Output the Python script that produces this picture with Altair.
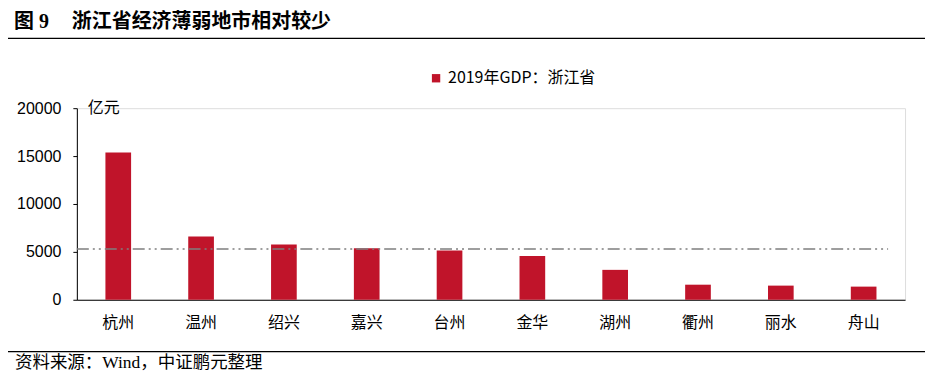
import altair as alt
import pandas as pd

cities = ["杭州", "温州", "绍兴", "嘉兴", "台州", "金华", "湖州", "衢州", "丽水", "舟山"]
gdp = [15373, 6606, 5781, 5370, 5134, 4560, 3122, 1574, 1477, 1372]
series_name = "2019年GDP：浙江省"
ref_value = 5300
y_ticks = [0, 5000, 10000, 15000, 20000]

df = pd.DataFrame({"city": cities, "gdp": gdp, "series": [series_name] * len(cities)})

W, H = 830, 192
CJK = "Noto Sans CJK SC"
SERIF = "Liberation Serif, Noto Sans CJK SC"

base = alt.Chart(df)

bars = base.mark_bar(color="#C0142A").encode(
    x=alt.X("city:N", sort=cities, title=None,
            scale=alt.Scale(paddingInner=0.69, paddingOuter=0.345),
            axis=alt.Axis(labelAngle=0, ticks=False, domainColor="#000000", domainWidth=1.2,
                          labelFont=CJK, labelFontSize=16, labelColor="#000000", labelPadding=15)),
    y=alt.Y("gdp:Q", title=None,
            scale=alt.Scale(domain=[0, 20000], nice=False),
            axis=alt.Axis(values=y_ticks, grid=False, domainColor="#000000", tickColor="#000000",
                          tickSize=4, labelFont="Liberation Sans", labelFontSize=16,
                          labelColor="#000000", labelPadding=12, format="d")),
    color=alt.Color("series:N", title=None,
                    scale=alt.Scale(range=["#C0142A"]),
                    legend=alt.Legend(orient="none", legendX=352, legendY=-38, symbolType="square",
                                      symbolSize=70, symbolStrokeWidth=0, labelFont=CJK,
                                      labelFontSize=16, labelColor="#000000", labelOffset=4)),
)

ref = alt.Chart(pd.DataFrame({"v": [ref_value]})).mark_rule(
    color="#7f7f7f", strokeWidth=1.5, strokeDash=[12, 4, 2, 4, 2, 4]
).encode(y="v:Q", x=alt.value(0), x2=alt.value(813))

unit = alt.Chart(pd.DataFrame({"t": ["亿元"]})).mark_text(
    font=CJK, fontSize=16, align="left", baseline="middle", color="#000000"
).encode(text="t:N", x=alt.value(11), y=alt.value(0))

title_num = alt.Chart(pd.DataFrame({"t": ["图 9"]})).mark_text(
    font=SERIF, fontSize=20, fontWeight="bold", align="left", baseline="middle", color="#000000"
).encode(text="t:N", x=alt.value(-63), y=alt.value(-86))

title_txt = alt.Chart(pd.DataFrame({"t": ["浙江省经济薄弱地市相对较少"]})).mark_text(
    font=SERIF, fontSize=20, fontWeight="bold", align="left", baseline="middle", color="#000000"
).encode(text="t:N", x=alt.value(-5), y=alt.value(-86))

title_line = alt.Chart(pd.DataFrame({"a": [0]})).mark_rule(color="#000000", strokeWidth=1.2).encode(
    x=alt.value(-69), x2=alt.value(850), y=alt.value(-70))

src_line = alt.Chart(pd.DataFrame({"a": [0]})).mark_rule(color="#000000", strokeWidth=1.2).encode(
    x=alt.value(-69), x2=alt.value(850), y=alt.value(244))

src_txt = alt.Chart(pd.DataFrame({"t": ["资料来源：Wind，中证鹏元整理"]})).mark_text(
    font=SERIF, fontSize=17.5, align="left", baseline="middle", color="#000000"
).encode(text="t:N", x=alt.value(-62), y=alt.value(255))

chart = alt.layer(bars, ref, unit, title_num, title_txt, title_line, src_line, src_txt).properties(
    width=W, height=H,
    padding={"left": 69, "top": 100, "right": 20, "bottom": 77},
    autosize=alt.AutoSizeParams(type="none"),
).configure_view(stroke=None).configure(background="#ffffff")

chart.save("out.html", embed_options={"renderer": "svg", "actions": False})
